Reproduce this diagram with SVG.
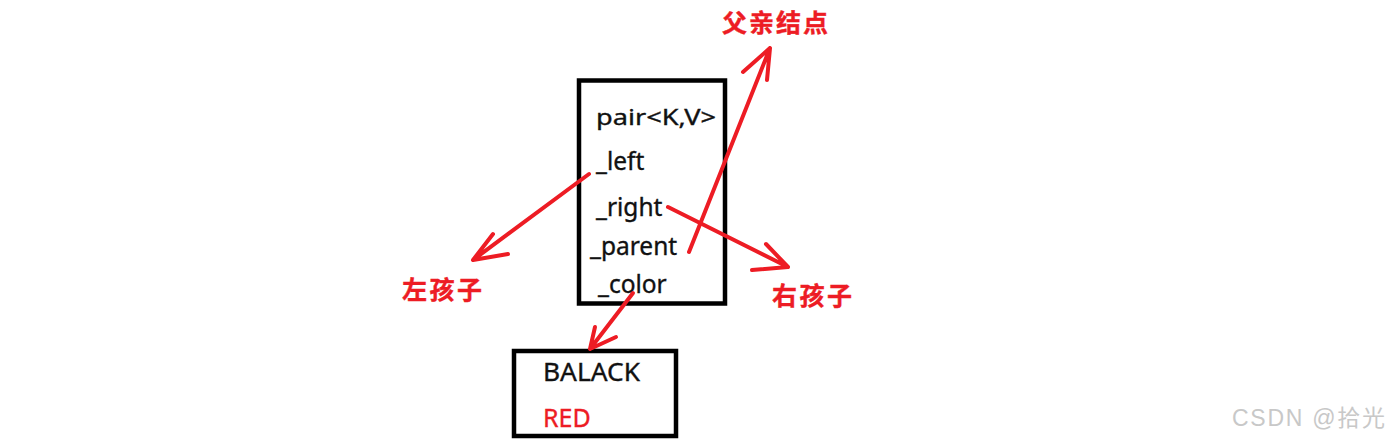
<svg xmlns="http://www.w3.org/2000/svg" width="1399" height="441" viewBox="0 0 1399 441">
<style>
.box{fill:none;stroke:#000;stroke-width:4.5}
.t{font-family:"Noto Sans","Open Sans","DejaVu Sans",sans-serif;font-size:24.5px;fill:#111;stroke:#111;stroke-width:0.35}
.lbl{font-family:"Noto Sans CJK SC","Noto Sans",sans-serif;font-size:25px;font-weight:bold;fill:#ed1c24;stroke:#ed1c24;stroke-width:0.4}
.a{fill:none;stroke:#ed1c24;stroke-width:4;stroke-linecap:round;stroke-linejoin:round}
.wm{font-family:"Liberation Sans","Noto Sans CJK SC",sans-serif;font-size:23px;fill:#c8c8c8}
</style>
<rect width="1399" height="441" fill="#fff"/>
<g id="node-main">
<rect class="box" x="579" y="80.5" width="146" height="223"/>
<text class="t" x="596" y="125" textLength="120" lengthAdjust="spacingAndGlyphs" style="font-size:22px">pair&lt;K,V&gt;</text>
<text class="t" x="596" y="170">_left</text>
<text class="t" x="596" y="216">_right</text>
<text class="t" x="590" y="255">_parent</text>
<text class="t" x="598" y="293">_color</text>
</g>
<g id="node-color">
<rect class="box" x="514" y="351" width="162" height="85"/>
<text class="t" x="543" y="381" style="font-size:25px" textLength="97" lengthAdjust="spacingAndGlyphs">BALACK</text>
<text class="t" x="543" y="427" style="font-size:25px;fill:#ed1c24;stroke:#ed1c24">RED</text>
</g>
<g id="label-parent"><text class="lbl" x="722" y="32" textLength="106">父亲结点</text></g>
<g id="label-left"><text class="lbl" x="402" y="299" textLength="80">左孩子</text></g>
<g id="label-right"><text class="lbl" x="772" y="305" textLength="80">右孩子</text></g>
<g id="connectors">
<path class="a" d="M589 174 L473 260 M493 234 L473 260 L508 254"/>
<path class="a" d="M668 207 L788 267 M766 244 L788 267 L752 270"/>
<path class="a" d="M689 252 L770 48 M743 72 L770 48 L767 80"/>
<path class="a" d="M633 293 L590 349 M595 327 L590 349 L616 337"/>
</g>
<text class="wm" x="1232" y="426" textLength="153">CSDN @拾光</text>
</svg>
